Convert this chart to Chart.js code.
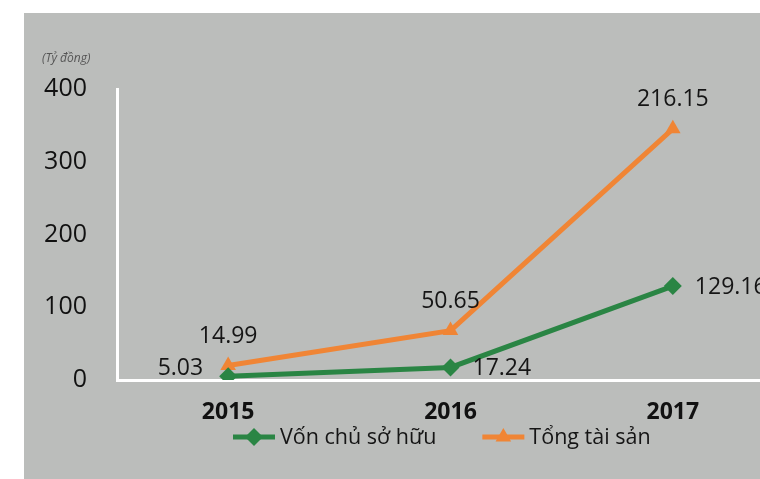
<!DOCTYPE html>
<html>
<head>
<meta charset="utf-8">
<script src="https://cdn.jsdelivr.net/npm/chart.js@4/dist/chart.umd.min.js"></script>
<style>
  html, body { margin: 0; padding: 0; background: #fff; overflow: hidden; width: 760px; height: 479px; }
  .panel { position: absolute; left: 24px; top: 13px; width: 790px; height: 466px; background: #bbbdbb; }
</style>
</head>
<body>
<div class="panel"><canvas id="chart" width="790" height="466"></canvas></div>
<script>
const years = ['2015', '2016', '2017']
const vonChuSoHuu = [5.03, 17.24, 129.16]
const tongTaiSan = [14.99, 50.65, 216.15]
const yMax = 400
const yStep = 100
const unitLabel = '(Tỷ đồng)'

const GREEN = '#2a8544'
const ORANGE = '#f08535'
const FONT = "'Open Sans', sans-serif"

// where each value label sits relative to its point
const labelSide = [
  ['left', 'right', 'right'],
  ['top', 'top', 'top']
]

const valueLabels = {
  id: 'valueLabels',
  afterDatasetsDraw(chart) {
    const ctx = chart.ctx
    ctx.save()
    ctx.font = `23px ${FONT}`
    ctx.fillStyle = '#151515'
    ctx.textBaseline = 'middle'
    chart.data.datasets.forEach((ds, di) => {
      const meta = chart.getDatasetMeta(di)
      meta.data.forEach((pt, i) => {
        const txt = ds.data[i].toFixed(2)
        const side = labelSide[di][i]
        if (side === 'left') {
          ctx.textAlign = 'right'
          ctx.fillText(txt, pt.x - 25, pt.y - 8)
        } else if (side === 'right') {
          ctx.textAlign = 'left'
          ctx.fillText(txt, pt.x + 22, pt.y + 1)
        } else {
          ctx.textAlign = 'center'
          ctx.fillText(txt, pt.x, pt.y - 29)
        }
      })
    })
    ctx.restore()
  }
}

const extras = {
  id: 'extras',
  afterDraw(chart) {
    const ctx = chart.ctx
    const area = chart.chartArea
    ctx.save()
    // unit caption above the y axis
    ctx.font = `italic 12px ${FONT}`
    ctx.fillStyle = '#555'
    ctx.textAlign = 'left'
    ctx.textBaseline = 'middle'
    ctx.fillText(unitLabel, 18, area.top - 30)

    // legend: line sample with marker, then name
    ctx.font = `21.5px ${FONT}`
    let x = area.left + 116
    const y = area.bottom + 57
    chart.data.datasets.forEach(ds => {
      ctx.strokeStyle = ds.borderColor
      ctx.fillStyle = ds.borderColor
      ctx.lineWidth = 5
      ctx.beginPath()
      ctx.moveTo(x, y)
      ctx.lineTo(x + 42, y)
      ctx.stroke()
      Chart.helpers.drawPoint(ctx, {
        pointStyle: ds.pointStyle,
        radius: ds.pointRadius,
        borderWidth: 0
      }, x + 21, y)
      ctx.fillStyle = '#151515'
      ctx.fillText(ds.label, x + 47, y + 1)
      x += 47 + ctx.measureText(ds.label).width + 46
    })
    ctx.restore()
  }
}

function markerDefaults(color, style) {
  return {
    borderColor: color,
    backgroundColor: color,
    borderWidth: 5,
    pointStyle: style,
    pointRadius: 9,
    pointHoverRadius: 9,
    pointBorderWidth: 0,
    pointBackgroundColor: color,
    tension: 0,
    fill: false
  }
}

new Chart(document.getElementById('chart'), {
  type: 'line',
  data: {
    labels: years,
    datasets: [
      { label: 'Vốn chủ sở hữu', data: vonChuSoHuu, ...markerDefaults(GREEN, 'rectRot') },
      { label: 'Tổng tài sản', data: tongTaiSan, ...markerDefaults(ORANGE, 'triangle') }
    ]
  },
  options: {
    responsive: false,
    animation: false,
    layout: { padding: { left: 18, top: 76, right: 30, bottom: 49 } },
    plugins: {
      legend: { display: false },
      tooltip: { enabled: false }
    },
    scales: {
      x: {
        offset: true,
        grid: { display: false, drawTicks: false },
        border: { display: true, color: '#ffffff', width: 3 },
        ticks: { color: '#111', font: { family: FONT, size: 23, weight: 'bold' }, padding: 19 },
        afterFit: s => { s.height = 50 }
      },
      y: {
        stacked: true,
        min: 0,
        max: yMax,
        grid: { display: false, drawTicks: false },
        border: { display: true, color: '#ffffff', width: 3 },
        ticks: { stepSize: yStep, color: '#111', font: { family: FONT, size: 25 }, padding: 30 },
        afterFit: s => { s.width = 75 }
      }
    }
  },
  plugins: [valueLabels, extras]
})
</script>
</body>
</html>
